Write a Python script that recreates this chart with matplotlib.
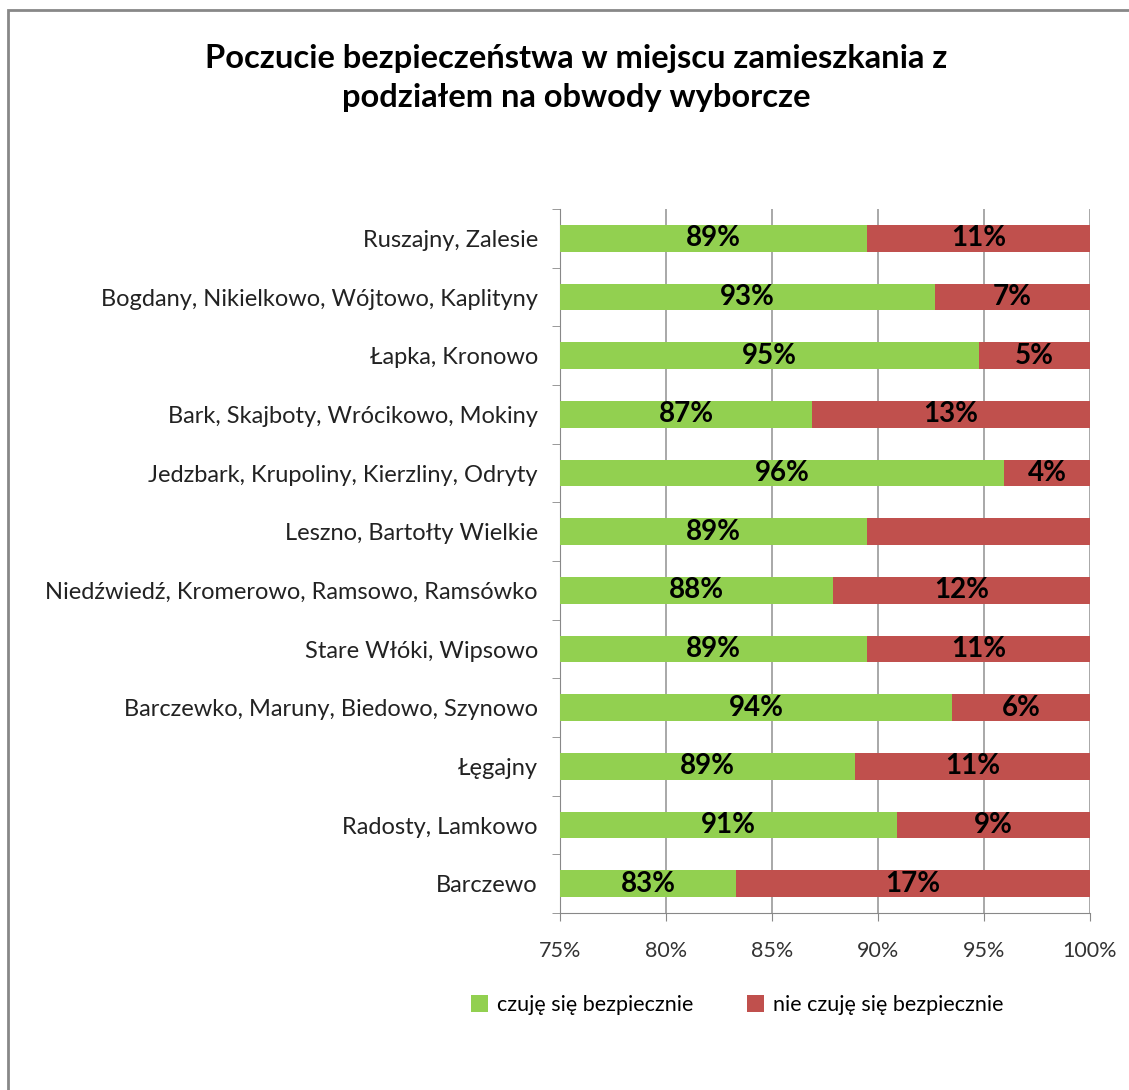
import matplotlib.pyplot as plt
from matplotlib.patches import Rectangle

plt.rcParams['font.family'] = ['Lato', 'DejaVu Sans']

categories = [
    'Ruszajny, Zalesie',
    'Bogdany, Nikielkowo, Wójtowo, Kaplityny',
    'Łapka, Kronowo',
    'Bark, Skajboty, Wrócikowo, Mokiny',
    'Jedzbark, Krupoliny, Kierzliny, Odryty',
    'Leszno, Bartołty Wielkie',
    'Niedźwiedź, Kromerowo, Ramsowo, Ramsówko',
    'Stare Włóki, Wipsowo',
    'Barczewko, Maruny, Biedowo, Szynowo',
    'Łęgajny',
    'Radosty, Lamkowo',
    'Barczewo',
]
safe = [89.5, 92.7, 94.75, 86.9, 95.95, 89.5, 87.9, 89.5, 93.5, 88.9, 90.9, 83.3]
safe_labels = ['89%', '93%', '95%', '87%', '96%', '89%', '88%', '89%', '94%', '89%', '91%', '83%']
unsafe_labels = ['11%', '7%', '5%', '13%', '4%', '', '12%', '11%', '6%', '11%', '9%', '17%']
series_names = ['czuję się bezpiecznie', 'nie czuję się bezpiecznie']
green = '#92D050'
red = '#C0504D'
x_min = 75

fig = plt.figure(figsize=(11.29, 10.9), dpi=100)
ax = fig.add_axes([560 / 1129, 1 - 913 / 1090, 530 / 1129, 704 / 1090])

ypos = list(range(len(categories)))
unsafe = [100 - v for v in safe]
gw = [v - x_min for v in safe]
b1 = ax.barh(ypos, gw, left=x_min, height=0.45, color=green, label=series_names[0], zorder=3)
b2 = ax.barh(ypos, unsafe, left=safe, height=0.45, color=red, label=series_names[1], zorder=3)

for y, s, u, sl, ul in zip(ypos, safe, unsafe, safe_labels, unsafe_labels):
    ax.text((x_min + s) / 2, y, sl, ha='center', va='center', fontsize=20,
            fontweight='bold', zorder=4)
    if ul:
        ax.text(s + u / 2, y, ul, ha='center', va='center', fontsize=20,
                fontweight='bold', zorder=4)

ax.set_xlim(75, 100)
ax.set_ylim(len(categories) - 0.5, -0.5)
ax.set_xticks([75, 80, 85, 90, 95, 100])
ax.set_xticklabels(['75%', '80%', '85%', '90%', '95%', '100%'], fontsize=15.5, color='#333333')
ax.set_yticks(ypos)
ax.set_yticklabels(categories, fontsize=17, color='#222222')
ax.set_yticks([i + 0.5 for i in range(-1, len(categories))], minor=True)
ax.tick_params(axis='y', which='major', length=0, pad=16)
ax.tick_params(axis='y', which='minor', length=6, color='#888888')
ax.tick_params(axis='x', length=6, color='#888888', pad=14)
ax.grid(axis='x', color='#999999', linewidth=1.2, zorder=0)
for side in ['top', 'right']:
    ax.spines[side].set_visible(False)
for side in ['left', 'bottom']:
    ax.spines[side].set_color('#888888')

fig.text(576 / 1129, 1 - 78 / 1090, 'Poczucie bezpieczeństwa w miejscu zamieszkania z\npodziałem na obwody wyborcze',
         ha='center', va='center', fontsize=23.5, fontweight='bold', linespacing=1.45)

fig.legend(handles=[b1, b2], loc='center', bbox_to_anchor=(737 / 1129, 1 - 1005 / 1090),
           ncol=2, frameon=False, fontsize=15.5, handlelength=0.8, handleheight=0.8,
           columnspacing=2.5, handletextpad=0.4)

fig.patches.append(Rectangle((8 / 1129, -0.1), 1.2, 1 - 10 / 1090 + 0.1,
                             transform=fig.transFigure, fill=False,
                             edgecolor='#888888', linewidth=2))

fig.savefig('out.png', dpi=100)
